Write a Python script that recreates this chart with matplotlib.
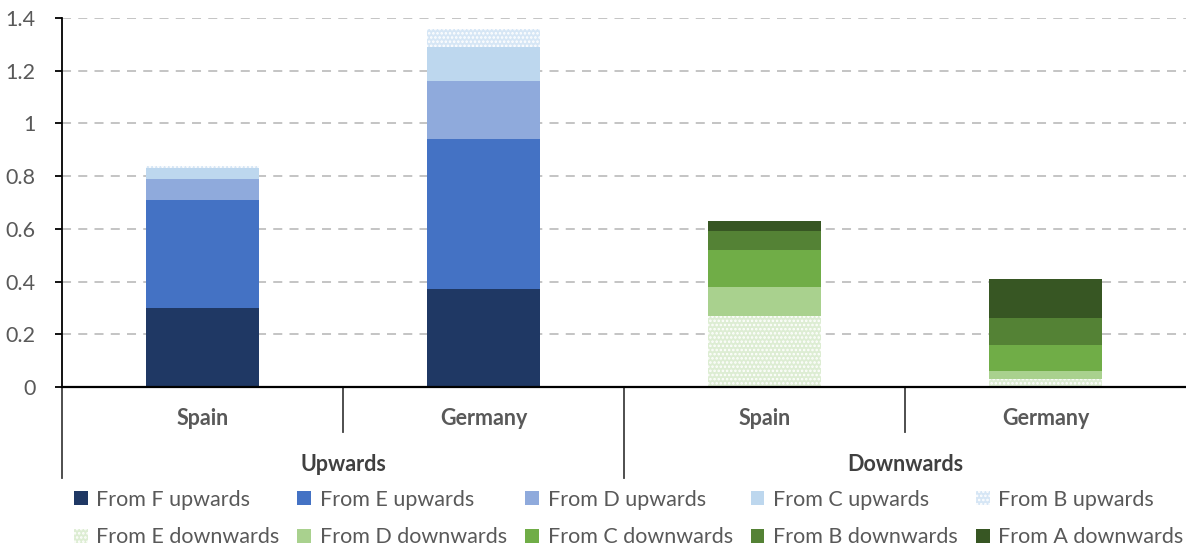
import matplotlib.pyplot as plt
import numpy as np

plt.rcParams['font.family'] = ['Lato', 'DejaVu Sans']
plt.rcParams['hatch.linewidth'] = 1.2

# categories along the bottom
bar_labels = ["Spain", "Germany", "Spain", "Germany"]
group_labels = ["Upwards", "Downwards"]

# upward movements (Spain, Germany)
up_names = ["From F upwards", "From E upwards", "From D upwards", "From C upwards", "From B upwards"]
up_values = [
    [0.30, 0.37],
    [0.41, 0.57],
    [0.08, 0.22],
    [0.04, 0.13],
    [0.01, 0.07],
]
up_colors = ["#1F3864", "#4472C4", "#8FAADC", "#BDD7EE", "#D6E6F5"]
up_hatch = [None, None, None, None, "...."]

# downward movements (Spain, Germany)
down_names = ["From E downwards", "From D downwards", "From C downwards", "From B downwards", "From A downwards"]
down_values = [
    [0.27, 0.03],
    [0.11, 0.03],
    [0.14, 0.10],
    [0.07, 0.10],
    [0.04, 0.15],
]
down_colors = ["#DDEDD3", "#A9D18E", "#70AD47", "#548235", "#375623"]
down_hatch = ["....", None, None, None, None]

fig = plt.figure(figsize=(11.86, 5.46), dpi=100)
ax = fig.add_axes([62 / 1186, 1 - 387 / 546, 1124 / 1186, 369 / 546])

width = 0.4
up_x = np.array([0, 1])
down_x = np.array([2, 3])

handles_up = []
bottom = np.zeros(2)
for name, vals, col, h in zip(up_names, up_values, up_colors, up_hatch):
    b = ax.bar(up_x, vals, width, bottom=bottom, color=col, hatch=h,
               edgecolor="white" if h else col, linewidth=0, label=name)
    bottom += np.array(vals)
    handles_up.append(b)

handles_down = []
bottom = np.zeros(2)
for name, vals, col, h in zip(down_names, down_values, down_colors, down_hatch):
    b = ax.bar(down_x, vals, width, bottom=bottom, color=col, hatch=h,
               edgecolor="white" if h else col, linewidth=0, label=name)
    bottom += np.array(vals)
    handles_down.append(b)

ax.set_xlim(-0.5, 3.5)
ax.set_ylim(0, 1.4)
yt = np.arange(0, 1.41, 0.2)
ax.set_yticks(yt)
ax.set_yticklabels([f"{v:g}" for v in np.round(yt, 1)], color="#595959", fontsize=15.5)
ax.tick_params(axis="y", length=5, width=1.3, color="black", pad=14)
ax.set_xticks([])
ax.yaxis.grid(True, linestyle=(0, (5, 4)), color="#BFBFBF", linewidth=1.3)
ax.set_axisbelow(True)
for s in ["top", "right"]:
    ax.spines[s].set_visible(False)
ax.spines["left"].set_color("black")
ax.spines["left"].set_linewidth(1.3)
ax.spines["bottom"].set_color("black")
ax.spines["bottom"].set_linewidth(1.6)

# multi-level category axis
trans = ax.get_xaxis_transform()
for i, lab in enumerate(bar_labels):
    ax.text(i, -0.085, lab, transform=trans, ha="center", va="center",
            fontsize=15.5, fontweight="bold", color="#595959")
for i, lab in enumerate(group_labels):
    ax.text(0.5 + 2 * i, -0.21, lab, transform=trans, ha="center", va="center",
            fontsize=15.5, fontweight="bold", color="#404040")
for xs in [0.5, 2.5]:
    ax.plot([xs, xs], [0, -0.122], transform=trans, color="#404040", lw=1.3, clip_on=False)
for xs in [-0.5, 1.5]:
    ax.plot([xs, xs], [0, -0.247], transform=trans, color="#404040", lw=1.3, clip_on=False)

# legend: row 1 upwards, row 2 downwards
handles = []
labels = []
for hu, hd, nu, nd in zip(handles_up, handles_down, up_names, down_names):
    handles += [hu, hd]
    labels += [nu, nd]
fig.legend(handles, labels, ncol=5, loc="lower center", bbox_to_anchor=(0.530, -0.038),
           frameon=False, fontsize=15.5, labelcolor="#595959", handlelength=0.65,
           handleheight=0.65, handletextpad=0.4, columnspacing=0.83, labelspacing=0.83)

fig.savefig("out.png", dpi=100)
